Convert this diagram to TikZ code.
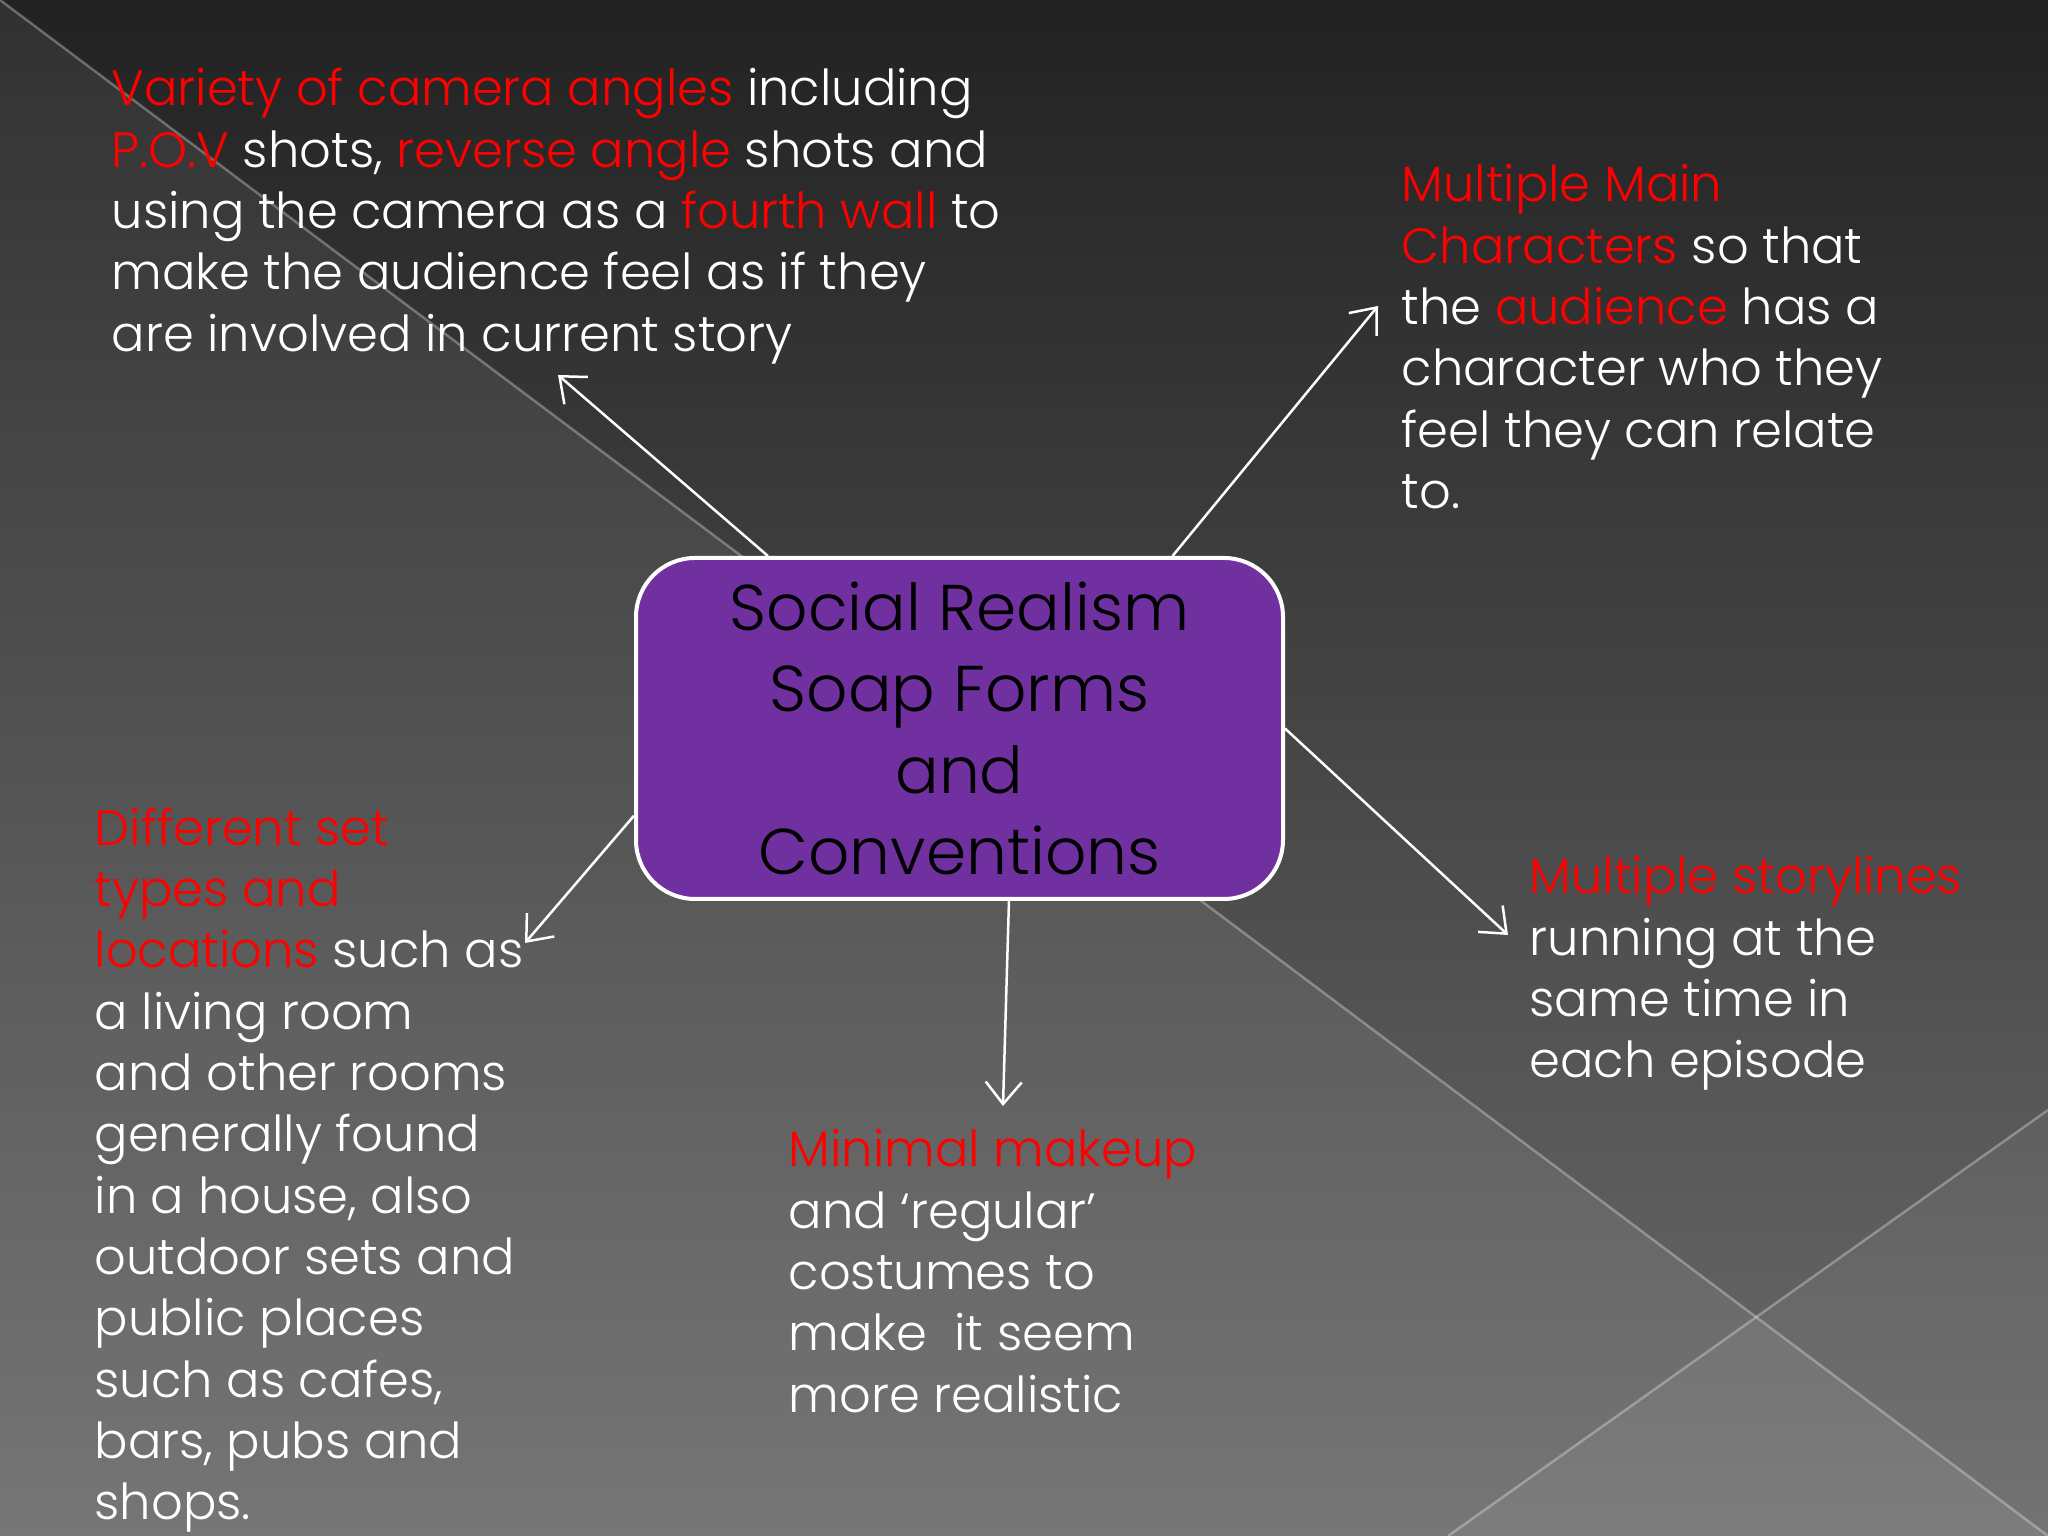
\documentclass[tikz,border=0pt]{standalone}
\usepackage{fontspec}
\setmainfont{Poppins}[UprightFont=* Light]
\usetikzlibrary{arrows.meta}
\definecolor{bgtop}{HTML}{222222}
\definecolor{bgbot}{HTML}{6C6C6C}
\definecolor{hl}{HTML}{FF0000}
\definecolor{boxpurple}{HTML}{7030A0}
\newcommand{\hlt}[1]{\textcolor{hl}{#1}}
\tikzset{
  body/.style={anchor=north west, inner sep=0pt, align=left, text=white, font=\fontsize{14.1}{17.45}\selectfont},
  centrebox/.style={draw=white, line width=0.04cm, fill=boxpurple, rounded corners=0.59cm, minimum width=6.47cm, minimum height=3.41cm, inner sep=0pt, align=center, text=black, font=\fontsize{18.4}{23.2}\selectfont},
  arr/.style={draw=white, line width=0.025cm, -{Straight Barb[length=0.22cm,width=0.36cm]}},
  bgline/.style={draw=white, draw opacity=0.3, line width=0.025cm}
}
\begin{document}
\begin{tikzpicture}
% background
\fill[top color=bgtop, bottom color=bgbot] (0,0) rectangle (20.48,15.36);
\useasboundingbox (0,0) rectangle (20.48,15.36);
\fill[white, opacity=0.07] (0,15.36) -- (20.48,0) -- (0,0) -- cycle;
\fill[white, opacity=0.05] (14.48,0) -- (20.48,4.26) -- (20.48,0) -- cycle;
\draw[bgline] (0,15.36) -- (20.48,0);
\draw[bgline] (14.48,0) -- (20.48,4.26);

% centre
\node[centrebox] (box) at (9.595,8.075) {Social Realism\\Soap Forms\\and\\Conventions};

% text blocks
\node[body] (camera) at (1.11,14.685) {\hlt{Variety of camera angles} including\\
\hlt{P.O.V} shots, \hlt{reverse angle} shots and\\
using the camera as a \hlt{fourth wall} to\\
make the audience feel as if they\\
are involved in current story};

\node[body] (chars) at (14.01,13.72) {\hlt{Multiple Main}\\
\hlt{Characters} so that\\
the \hlt{audience} has a\\
character who they\\
feel they can relate\\
to.};

\node[body] (story) at (15.29,6.80) {\hlt{Multiple storylines}\\
running at the\\
same time in\\
each episode};

\node[body] (makeup) at (7.88,4.07) {\hlt{Minimal makeup}\\
and ‘regular’\\
costumes to\\
make\ \ it seem\\
more realistic};

\node[body] (sets) at (0.94,7.29) {\hlt{Different set}\\
\hlt{types and}\\
\hlt{locations} such as\\
a living room\\
and other rooms\\
generally found\\
in a house, also\\
outdoor sets and\\
public places\\
such as cafes,\\
bars, pubs and\\
shops.};

% arrow tips
\coordinate (tA) at (5.58,11.61);
\coordinate (tB) at (13.78,12.30);
\coordinate (tC) at (15.08,6.01);
\coordinate (tD) at (10.03,4.30);
\coordinate (tE) at (5.25,5.93);

\draw[arr] (box.138.4) -- (tA);
\draw[arr] (box.39.4) -- (tB);
\draw[arr] (box.-0.5) -- (tC);
\draw[arr] (box.-74.4) -- (tD);
\draw[arr] (box.195.8) -- (tE);
\end{tikzpicture}
\end{document}
